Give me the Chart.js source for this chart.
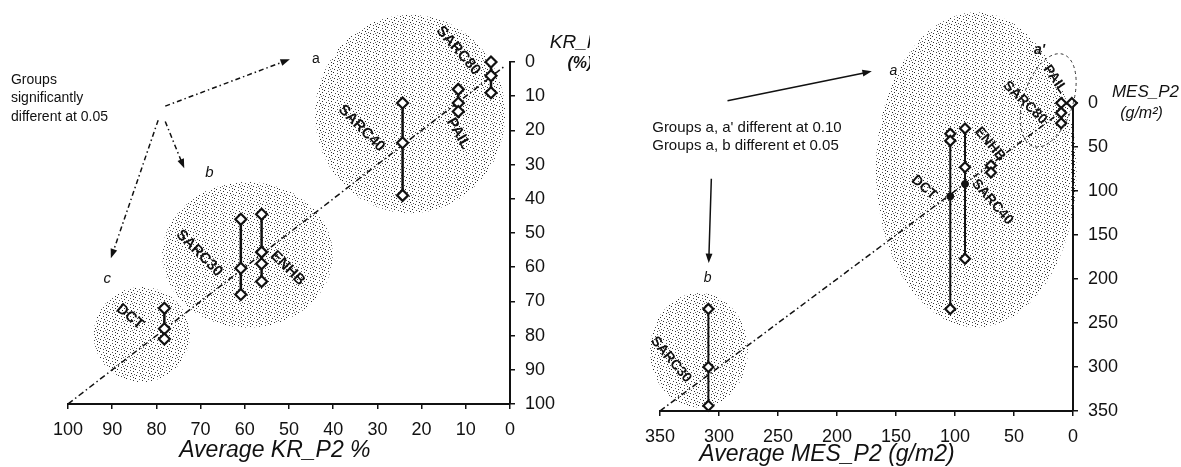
<!DOCTYPE html>
<html>
<head>
<meta charset="utf-8">
<script src="https://cdn.jsdelivr.net/npm/chart.js@4/dist/chart.umd.min.js"></script>
<style>
html, body { margin: 0; padding: 0; background: #fff; }
#wrap { position: relative; width: 1181px; height: 467px; overflow: hidden; }
canvas { position: absolute; top: 0; }
#kr { left: 0; }
#mes { left: 590px; }
</style>
</head>
<body>
<div id="wrap">
  <canvas id="kr" width="590" height="467"></canvas>
  <canvas id="mes" width="591" height="467"></canvas>
</div>
<script>
// left panel : KR_P2 (%)
var krNames = ['SARC80', 'PAIL', 'SARC40', 'SARC30', 'ENHB', 'DCT'];
var krAvg = [4.3, 11.7, 24.3, 60.9, 56.2, 78.2];
var krValues = [[0, 4, 9], [8, 12, 14.5], [12, 23.6, 39], [46, 60.3, 68], [44.5, 55.6, 59, 64.2], [72, 78, 81]];
var krTicks = [0, 10, 20, 30, 40, 50, 60, 70, 80, 90, 100];
var krGroupX = [22.6, 59.4, 83.3];
var krGroupY = [15.2, 56.4, 79.7];
var krGroupRx = [21.5, 19.3, 10.9];
var krGroupRy = [29, 21.3, 13.9];

// right panel : MES_P2 (g/m2)
var mesNames = ['SARC30', 'DCT', 'SARC40', 'ENHB', 'SARC80', 'PAIL'];
var mesAvg = [309, 104, 91.5, 69.5, 10, 1];
var mesValues = [[234, 300, 344], [35, 43, 234], [29, 73, 177], [71, 79], [0, 11, 23], [0]];
var mesMeanX = [104, 91.5];
var mesMeanY = [106, 92];
var mesTicks = [0, 50, 100, 150, 200, 250, 300, 350];
var mesGroupX = [82, 317];
var mesGroupY = [76, 281];
var mesGroupRx = [85, 41.5];
var mesGroupRy = [179, 65];

var FONT = '"Liberation Sans", Arial, sans-serif';
var INK = '#111';

// halftone look of the scanned shading
function stipple(ctx) {
  var c = document.createElement('canvas');
  c.width = 9; c.height = 9;
  var g = c.getContext('2d');
  var dots = [[0, 0, '#222'], [4, 1, '#555'], [7, 2, '#333'], [2, 3, '#444'], [5, 4, '#222'],
              [8, 5, '#555'], [1, 6, '#333'], [4, 7, '#444'], [7, 8, '#333'], [6, 6, '#777']];
  dots.forEach(function (d) { g.fillStyle = d[2]; g.fillRect(d[0], d[1], 1, 1); });
  return ctx.createPattern(c, 'repeat');
}

function drawText(ctx, t, sx, sy) {
  ctx.save();
  ctx.translate(sx.getPixelForValue(t.x), sy.getPixelForValue(t.y));
  if (t.angle) ctx.rotate(t.angle * Math.PI / 180);
  ctx.font = t.font;
  ctx.fillStyle = INK;
  ctx.textAlign = t.align || 'center';
  ctx.textBaseline = 'middle';
  ctx.fillText(t.text, 0, 0);
  ctx.restore();
}

function drawArrow(ctx, a, sx, sy) {
  var x1 = sx.getPixelForValue(a.from[0]), y1 = sy.getPixelForValue(a.from[1]);
  var x2 = sx.getPixelForValue(a.to[0]), y2 = sy.getPixelForValue(a.to[1]);
  var ang = Math.atan2(y2 - y1, x2 - x1), L = 10;
  ctx.save();
  ctx.strokeStyle = INK; ctx.fillStyle = INK;
  ctx.lineWidth = a.width || 1.5;
  ctx.setLineDash(a.dash || []);
  ctx.beginPath();
  ctx.moveTo(x1, y1);
  ctx.lineTo(x2 - L * 0.8 * Math.cos(ang), y2 - L * 0.8 * Math.sin(ang));
  ctx.stroke();
  ctx.setLineDash([]);
  ctx.beginPath();
  ctx.moveTo(x2, y2);
  ctx.lineTo(x2 - L * Math.cos(ang - 0.35), y2 - L * Math.sin(ang - 0.35));
  ctx.lineTo(x2 - L * Math.cos(ang + 0.35), y2 - L * Math.sin(ang + 0.35));
  ctx.closePath();
  ctx.fill();
  ctx.restore();
}

var decor = {
  id: 'decor',
  beforeDatasetsDraw: function (chart, args, opts) {
    var ctx = chart.ctx, sx = chart.scales.x, sy = chart.scales.y;
    ctx.save();
    ctx.fillStyle = stipple(ctx);
    (opts.shades || []).forEach(function (s) {
      var cx = sx.getPixelForValue(s.x), cy = sy.getPixelForValue(s.y);
      var rx = Math.abs(sx.getPixelForValue(s.x + s.rx) - cx);
      var ry = Math.abs(sy.getPixelForValue(s.y + s.ry) - cy);
      ctx.beginPath();
      ctx.ellipse(cx, cy, rx, ry, 0, 0, Math.PI * 2);
      ctx.fill();
    });
    ctx.restore();
  },
  afterDatasetsDraw: function (chart, args, opts) {
    var ctx = chart.ctx, sx = chart.scales.x, sy = chart.scales.y;
    (opts.outlines || []).forEach(function (s) {
      var cx = sx.getPixelForValue(s.x), cy = sy.getPixelForValue(s.y);
      ctx.save();
      ctx.strokeStyle = '#333'; ctx.lineWidth = 1;
      ctx.setLineDash([3, 3]);
      ctx.beginPath();
      ctx.ellipse(cx, cy, Math.abs(sx.getPixelForValue(s.x + s.rx) - cx),
        Math.abs(sy.getPixelForValue(s.y + s.ry) - cy), s.angle * Math.PI / 180, 0, Math.PI * 2);
      ctx.stroke();
      ctx.restore();
    });
    (opts.arrows || []).forEach(function (a) { drawArrow(ctx, a, sx, sy); });
    (opts.texts || []).forEach(function (t) { drawText(ctx, t, sx, sy); });
  }
};

function treatmentSets(avg, values, r, lw) {
  return values.map(function (vals, i) {
    return {
      data: vals.map(function (v) { return { x: avg[i], y: v }; }),
      showLine: true,
      borderColor: INK,
      borderWidth: lw,
      pointStyle: 'rectRot',
      pointRadius: r,
      pointBackgroundColor: '#fff',
      pointBorderColor: INK,
      pointBorderWidth: 2.2,
      clip: false
    };
  });
}

function axes(xMax, yMax, ticks, xH, yW) {
  var common = {
    type: 'linear', min: 0, reverse: true,
    grid: { display: true, drawOnChartArea: false, drawTicks: true, tickLength: 5, color: INK, lineWidth: 1.5 },
    border: { display: true, color: INK, width: 2 },
    afterBuildTicks: function (s) { s.ticks = ticks.map(function (v) { return { value: v }; }); }
  };
  return {
    x: Object.assign({}, common, {
      max: xMax, position: 'bottom',
      ticks: { color: INK, font: { family: FONT, size: 18 }, padding: 10, maxRotation: 0, autoSkip: false },
      afterFit: function (s) { s.height = xH; }
    }),
    y: Object.assign({}, common, {
      max: yMax, position: 'right',
      ticks: { color: INK, font: { family: FONT, size: 18 }, padding: 10, autoSkip: false },
      afterFit: function (s) { s.width = yW; }
    })
  };
}

function shadeList(gx, gy, grx, gry) {
  return gx.map(function (x, i) { return { x: x, y: gy[i], rx: grx[i], ry: gry[i] }; });
}

var bold15 = 'bold 15px ' + FONT, bold14 = 'bold 14px ' + FONT;

// ----- KR chart -----
var krSets = treatmentSets(krAvg, krValues, 5.5, 2.5);
krSets.push({
  data: [{ x: 100, y: 100 }, { x: 1.5, y: 1.5 }],
  showLine: true, borderColor: INK, borderWidth: 1.5, borderDash: [6, 3, 1.5, 3], pointRadius: 0
});

new Chart(document.getElementById('kr'), {
  type: 'scatter',
  data: { datasets: krSets },
  options: {
    responsive: false, animation: false, devicePixelRatio: 1,
    layout: { padding: { left: 68, top: 62, right: 0, bottom: 0 } },
    scales: axes(100, 100, krTicks, 63, 80),
    plugins: {
      legend: { display: false }, tooltip: { enabled: false },
      decor: {
        shades: shadeList(krGroupX, krGroupY, krGroupRx, krGroupRy),
        arrows: [
          { from: [78, 12.9], to: [49.8, -0.8], dash: [5, 3, 1.5, 3] },
          { from: [78, 17.4], to: [73.7, 31.1], dash: [5, 3, 1.5, 3] },
          { from: [79.6, 17], to: [90.3, 57.4], dash: [5, 3, 1.5, 3] }
        ],
        texts: [
          { text: krNames[0], x: 11.7, y: -3.3, angle: 49, font: bold15 },
          { text: krNames[1], x: 11.7, y: 20.9, angle: 60, font: bold15 },
          { text: krNames[2], x: 33.6, y: 19.4, angle: 45, font: bold15 },
          { text: krNames[3], x: 70.3, y: 55.9, angle: 45, font: bold15 },
          { text: krNames[4], x: 50.3, y: 60.3, angle: 45, font: bold15 },
          { text: krNames[5], x: 86, y: 74.5, angle: 40, font: bold15 },
          { text: 'a', x: 43.9, y: -0.8, font: '14px ' + FONT },
          { text: 'b', x: 68, y: 32.4, font: 'italic 15px ' + FONT },
          { text: 'c', x: 91.1, y: 63.3, font: 'italic 15px ' + FONT },
          { text: 'Groups', x: 112.9, y: 5.3, align: 'left', font: '14px ' + FONT },
          { text: 'significantly', x: 112.9, y: 10.5, align: 'left', font: '14px ' + FONT },
          { text: 'different at 0.05', x: 112.9, y: 16.1, align: 'left', font: '14px ' + FONT },
          { text: 'KR_P2', x: -9, y: -5.6, align: 'left', font: 'italic 19px ' + FONT },
          { text: '(%)', x: -13, y: 0.6, align: 'left', font: 'italic bold 16px ' + FONT },
          { text: 'Average KR_P2 %', x: 53.2, y: 113.5, font: 'italic 23px ' + FONT }
        ]
      }
    }
  },
  plugins: [decor]
});

// ----- MES chart -----
var mesSets = [{
  data: mesMeanX.map(function (x, i) { return { x: x, y: mesMeanY[i] }; }),
  showLine: false, pointStyle: 'circle', pointRadius: 3.5,
  pointBackgroundColor: INK, pointBorderColor: INK, clip: false
}].concat(treatmentSets(mesAvg, mesValues, 5, 2));
mesSets.push({
  data: [{ x: 350, y: 350 }, { x: 8, y: 8 }],
  showLine: true, borderColor: INK, borderWidth: 1.5, borderDash: [6, 3, 1.5, 3], pointRadius: 0
});

new Chart(document.getElementById('mes'), {
  type: 'scatter',
  data: { datasets: mesSets },
  options: {
    responsive: false, animation: false, devicePixelRatio: 1,
    layout: { padding: { left: 70, top: 103, right: 0, bottom: 0 } },
    scales: axes(350, 350, mesTicks, 56, 108),
    plugins: {
      legend: { display: false }, tooltip: { enabled: false },
      decor: {
        shades: shadeList(mesGroupX, mesGroupY, mesGroupRx, mesGroupRy),
        outlines: [{ x: 21, y: -3, rx: 21, ry: 55, angle: 18 }],
        arrows: [
          { from: [292.8, -2.6], to: [170.5, -36] },
          { from: [306.5, 86], to: [308.7, 181.9] }
        ],
        texts: [
          { text: mesNames[0], x: 340.7, y: 291.7, angle: 50, font: bold14 },
          { text: mesNames[1], x: 126.3, y: 96, angle: 42, font: bold14 },
          { text: mesNames[2], x: 68.4, y: 112.5, angle: 49, font: bold14 },
          { text: mesNames[3], x: 70.3, y: 46.8, angle: 50, font: bold14 },
          { text: mesNames[4], x: 40.7, y: -0.4, angle: 44, font: bold14 },
          { text: mesNames[5], x: 15.3, y: -27, angle: 55, font: bold14 },
          { text: 'a', x: 152.3, y: -36, font: 'italic 14px ' + FONT },
          { text: 'b', x: 309.7, y: 198.9, font: 'italic 14px ' + FONT },
          { text: "a'", x: 28.4, y: -60.6, font: 'italic bold 14px ' + FONT },
          { text: "Groups a, a' different at 0.10", x: 356.6, y: 28.5, align: 'left', font: '15px ' + FONT },
          { text: 'Groups a, b different et 0.05', x: 356.6, y: 49, align: 'left', font: '15px ' + FONT },
          { text: 'MES_P2', x: -33, y: -12.2, align: 'left', font: 'italic 17px ' + FONT },
          { text: '(g/m\u00b2)', x: -40, y: 11.7, align: 'left', font: 'italic 16px ' + FONT },
          { text: 'Average MES_P2 (g/m2)', x: 208.5, y: 400, font: 'italic 23px ' + FONT }
        ]
      }
    }
  },
  plugins: [decor]
});
</script>
</body>
</html>
